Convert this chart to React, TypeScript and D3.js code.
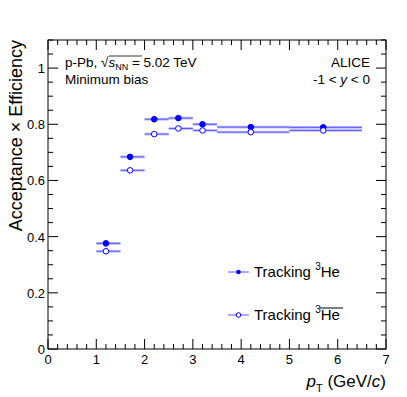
import React from 'react';
import * as d3 from 'd3';

// pT bins (GeV/c) and marker positions
const binLow = [1.0, 1.5, 2.0, 2.5, 3.0, 3.5, 5.0];
const binHigh = [1.5, 2.0, 2.5, 3.0, 3.5, 5.0, 6.5];
const ptPoint = [1.2, 1.7, 2.2, 2.7, 3.2, 4.2, 5.7];

// Acceptance x Efficiency
const effHe3 = [0.376, 0.684, 0.818, 0.822, 0.800, 0.790, 0.789];
const effAntiHe3 = [0.348, 0.636, 0.765, 0.785, 0.778, 0.772, 0.778];
const sysErr = 0.005;

const xTicks = [0, 1, 2, 3, 4, 5, 6, 7];
const yTicks = [0, 0.2, 0.4, 0.6, 0.8, 1];

const W = 407, H = 397;
const left = 48, right = 386, top = 40, bottom = 349;

const font = 'Liberation Sans, Arial, sans-serif';

const App = () => {
  const x = d3.scaleLinear().domain([0, 7]).range([left, right]);
  const y = d3.scaleLinear().domain([0, 1.1]).range([bottom, top]);

  const xMinor = d3.range(0, 7.001, 0.2);
  const yMinor = d3.range(0, 1.1001, 0.05);

  const series = [
    { vals: effHe3, filled: true, line: '#5a5aff', sys: '#a8a8ff' },
    { vals: effAntiHe3, filled: false, line: '#5a5aff', sys: '#b4b4ff' },
  ];

  return (
    <svg width={W} height={H} style={{ position: 'absolute', left: 0, top: 0 }} fontFamily={font}>
      <rect x={0} y={0} width={W} height={H} fill="#fff" />

      {/* ticks */}
      {xMinor.map((t, i) => {
        const major = Math.abs(t - Math.round(t)) < 1e-6;
        const len = major ? 10 : 5;
        return (
          <g key={'xt' + i} stroke="#000" strokeWidth={1}>
            <line x1={x(t)} x2={x(t)} y1={bottom} y2={bottom - len} />
            <line x1={x(t)} x2={x(t)} y1={top} y2={top + len} />
          </g>
        );
      })}
      {yMinor.map((t, i) => {
        const major = Math.abs(t * 5 - Math.round(t * 5)) < 1e-6;
        const len = major ? 10 : 5;
        return (
          <g key={'yt' + i} stroke="#000" strokeWidth={1}>
            <line x1={left} x2={left + len} y1={y(t)} y2={y(t)} />
            <line x1={right} x2={right - len} y1={y(t)} y2={y(t)} />
          </g>
        );
      })}
      <rect x={left} y={top} width={right - left} height={bottom - top} fill="none" stroke="#000" strokeWidth={1} />

      {/* tick labels */}
      {xTicks.map(t => (
        <text key={'xl' + t} x={x(t)} y={bottom + 15} fontSize={13} textAnchor="middle">{t}</text>
      ))}
      {yTicks.map(t => (
        <text key={'yl' + t} x={left - 3} y={y(t) + 5} fontSize={13} textAnchor="end">{t}</text>
      ))}

      {/* axis titles */}
      <text x={right} y={387} fontSize={17} textAnchor="end">
        <tspan fontStyle="italic">p</tspan>
        <tspan fontSize={11} dy={5}>T</tspan>
        <tspan dy={-5}> (GeV/</tspan>
        <tspan fontStyle="italic">c</tspan>
        <tspan>)</tspan>
      </text>
      <text transform={`translate(22,${top}) rotate(-90)`} fontSize={18} textAnchor="end">
        Acceptance × Efficiency
      </text>

      {/* systematic boxes + error bars + markers */}
      {series.map((s, si) => (
        <g key={'s' + si}>
          {s.vals.map((v, i) => (
            <rect key={'b' + i} x={x(binLow[i])} y={y(v + sysErr)} width={x(binHigh[i]) - x(binLow[i])}
              height={y(v - sysErr) - y(v + sysErr)} fill={s.sys} opacity={0.8} />
          ))}
          {s.vals.map((v, i) => (
            <line key={'l' + i} x1={x(binLow[i])} x2={x(binHigh[i])} y1={y(v)} y2={y(v)} stroke={s.line} strokeWidth={1} />
          ))}
          {s.vals.map((v, i) => (
            <circle key={'m' + i} cx={x(ptPoint[i])} cy={y(v)} r={2.8}
              fill={s.filled ? '#0000ff' : '#fff'} stroke="#0000ff" strokeWidth={1} />
          ))}
        </g>
      ))}

      {/* header text */}
      <text x={65} y={67} fontSize={13.5}>
        p-Pb, √<tspan fontStyle="italic">s</tspan><tspan fontSize={9} dy={3}>NN</tspan><tspan dy={-3}> = 5.02 TeV</tspan>
      </text>
      <line x1={109} x2={142} y1={56} y2={56} stroke="#000" strokeWidth={0.8} />
      <text x={65} y={84} fontSize={13.5}>Minimum bias</text>
      <text x={370} y={67} fontSize={13.5} textAnchor="end">ALICE</text>
      <text x={370} y={84} fontSize={13.5} textAnchor="end">
        -1 &lt; <tspan fontStyle="italic">y</tspan> &lt; 0
      </text>

      {/* legend */}
      <g>
        <line x1={228} x2={249} y1={272} y2={272} stroke="#5a5aff" />
        <circle cx={238.5} cy={272} r={2.3} fill="#0000ff" />
        <text x={254} y={277} fontSize={15}>
          Tracking <tspan fontSize={10} dy={-7}>3</tspan><tspan dy={7}>He</tspan>
        </text>
        <line x1={228} x2={249} y1={315} y2={315} stroke="#5a5aff" />
        <circle cx={238.5} cy={315} r={2.3} fill="#fff" stroke="#0000ff" />
        <text x={254} y={320} fontSize={15}>
          Tracking <tspan fontSize={10} dy={-7}>3</tspan><tspan dy={7}>He</tspan>
        </text>
        <line x1={320} x2={343} y1={308} y2={308} stroke="#000" strokeWidth={1} />
      </g>
    </svg>
  );
};

export default App;
